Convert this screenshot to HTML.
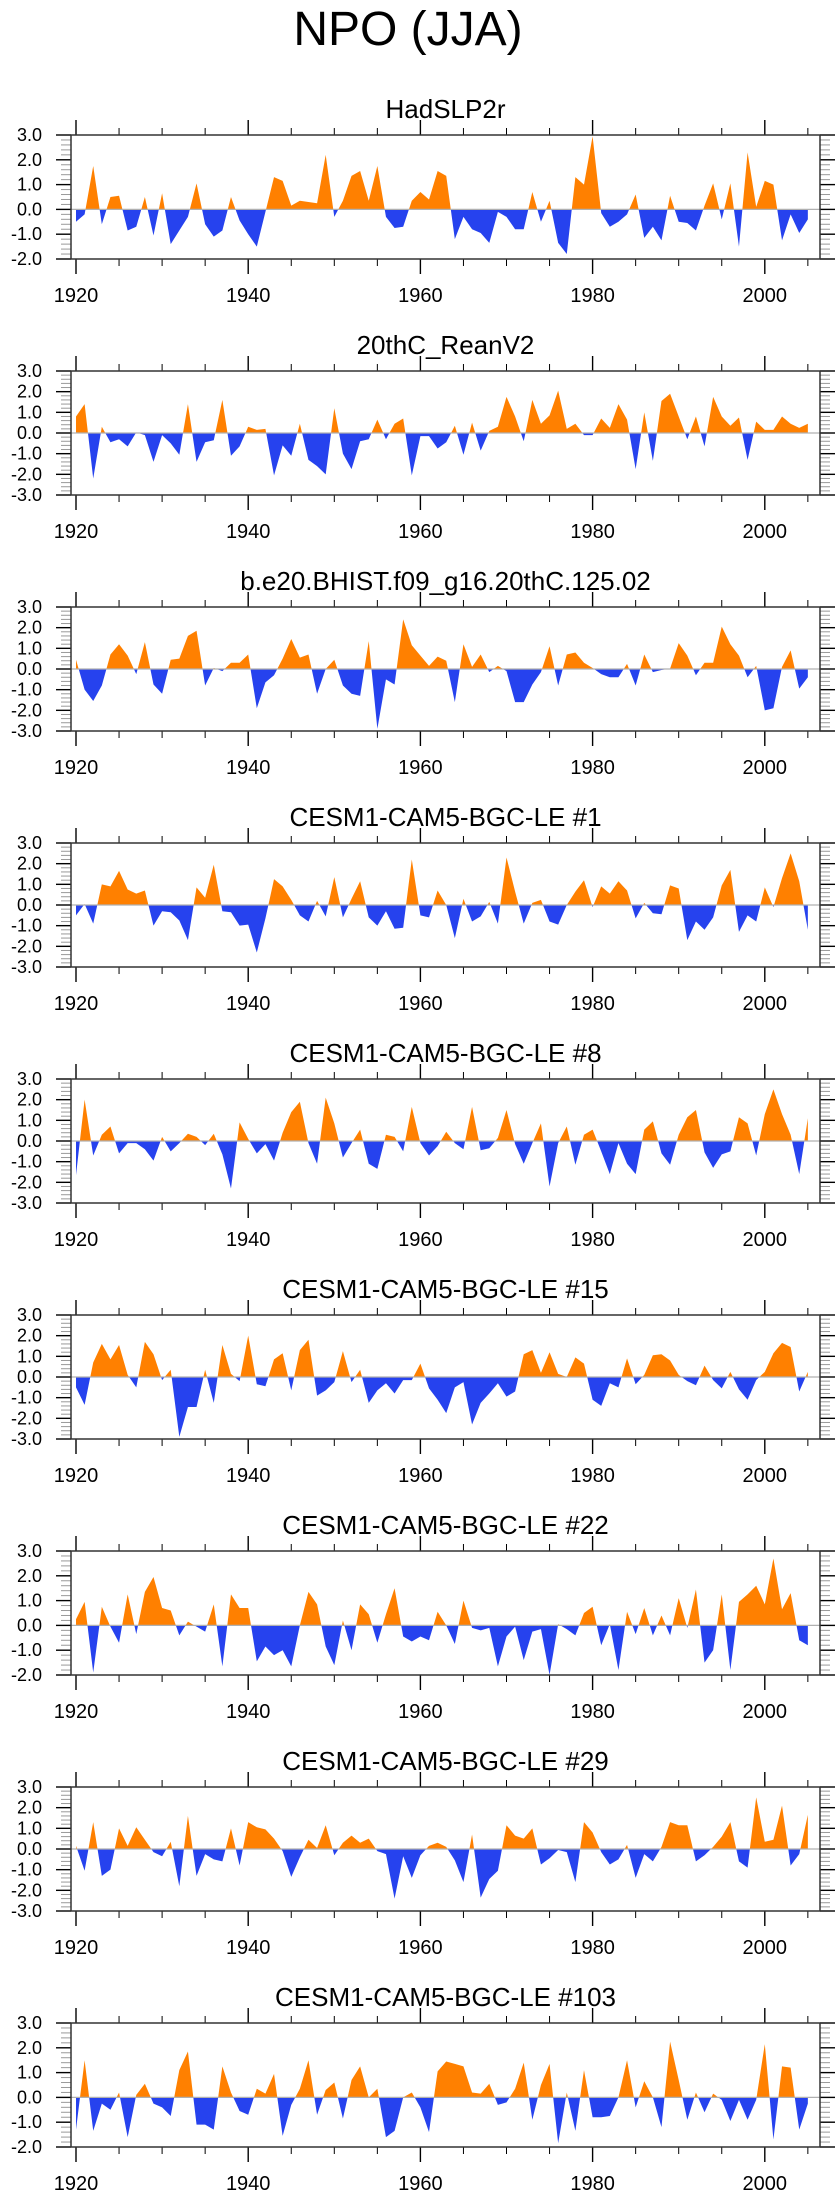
<!DOCTYPE html>
<html><head><meta charset="utf-8"><style>
html,body{margin:0;padding:0;background:#fff;}
svg{display:block;font-family:"Liberation Sans",Arial,sans-serif;}
</style></head>
<body>
<svg id="chart" width="840" height="2200" viewBox="0 0 840 2200" xmlns="http://www.w3.org/2000/svg">
<rect width="840" height="2200" fill="#fff"/>
<text x="408" y="45" font-size="48" text-anchor="middle" fill="#000">NPO (JJA)</text>
</svg>
<script>
const startYear = 1920;
const panelTitles = ["HadSLP2r","20thC_ReanV2","b.e20.BHIST.f09_g16.20thC.125.02","CESM1-CAM5-BGC-LE #1","CESM1-CAM5-BGC-LE #8","CESM1-CAM5-BGC-LE #15","CESM1-CAM5-BGC-LE #22","CESM1-CAM5-BGC-LE #29","CESM1-CAM5-BGC-LE #103"];
const yMins = [-2,-3,-3,-3,-3,-3,-2,-3,-2];
const yMax = 3;
const xTickLabels = [1920,1940,1960,1980,2000];
const s1 = [-0.5,-0.2,1.75,-0.6,0.5,0.55,-0.85,-0.7,0.5,-1.05,0.65,-1.4,-0.85,-0.3,1.05,-0.6,-1.1,-0.85,0.5,-0.45,-1.0,-1.5,-0.1,1.3,1.15,0.15,0.35,0.3,0.25,2.2,-0.3,0.35,1.35,1.55,0.35,1.75,-0.3,-0.75,-0.7,0.35,0.7,0.4,1.55,1.35,-1.2,-0.3,-0.8,-0.95,-1.35,-0.1,-0.3,-0.8,-0.8,0.7,-0.5,0.35,-1.35,-1.8,1.3,1.0,2.95,-0.15,-0.7,-0.5,-0.2,0.6,-1.15,-0.7,-1.25,0.55,-0.5,-0.55,-0.85,0.15,1.05,-0.4,1.05,-1.5,2.3,0.1,1.15,1.0,-1.25,-0.2,-0.95,-0.4];
const s2 = [0.8,1.4,-2.2,0.3,-0.45,-0.3,-0.65,0.03,-0.1,-1.4,-0.1,-0.5,-1.05,1.4,-1.4,-0.45,-0.35,1.6,-1.1,-0.65,0.3,0.15,0.2,-2.05,-0.6,-1.1,0.45,-1.3,-1.6,-2.0,1.2,-1.0,-1.75,-0.4,-0.3,0.65,-0.3,0.45,0.7,-2.05,-0.15,-0.15,-0.75,-0.45,0.35,-1.05,0.5,-0.85,0.1,0.3,1.75,0.8,-0.4,1.6,0.45,0.85,2.05,0.2,0.45,-0.1,-0.1,0.7,0.25,1.4,0.65,-1.75,1.0,-1.35,1.55,1.9,0.8,-0.3,0.8,-0.65,1.75,0.8,0.35,0.75,-1.3,0.55,0.15,0.15,0.8,0.45,0.25,0.45];
const s3 = [0.45,-1.0,-1.55,-0.8,0.7,1.2,0.65,-0.25,1.3,-0.75,-1.2,0.45,0.5,1.6,1.85,-0.8,0.05,-0.1,0.3,0.3,0.7,-1.9,-0.65,-0.3,0.5,1.45,0.55,0.7,-1.2,0.0,0.45,-0.8,-1.2,-1.3,1.35,-2.9,-0.5,-0.75,2.4,1.15,0.65,0.15,0.6,0.4,-1.6,1.2,0.1,0.7,-0.15,0.15,-0.1,-1.6,-1.6,-0.75,-0.15,1.1,-0.8,0.7,0.8,0.3,0.05,-0.25,-0.4,-0.4,0.25,-0.8,0.7,-0.15,-0.05,0.02,1.25,0.65,-0.3,0.3,0.3,2.05,1.2,0.65,-0.4,0.15,-2.0,-1.9,0.1,0.9,-0.95,-0.4];
const s4 = [-0.5,0.05,-0.9,1.0,0.9,1.65,0.75,0.55,0.7,-1.0,-0.3,-0.35,-0.75,-1.7,0.85,0.35,1.95,-0.3,-0.35,-1.0,-0.95,-2.3,-0.65,1.25,0.9,0.25,-0.5,-0.8,0.2,-0.55,1.35,-0.6,0.3,1.15,-0.6,-1.0,-0.3,-1.15,-1.1,2.2,-0.5,-0.6,0.7,0.0,-1.6,0.3,-0.8,-0.55,0.15,-0.9,2.3,0.65,-0.9,0.1,0.25,-0.8,-0.95,0.0,0.65,1.2,-0.1,0.9,0.55,1.15,0.7,-0.65,0.1,-0.4,-0.45,0.95,0.8,-1.7,-0.8,-1.2,-0.6,0.95,1.7,-1.3,-0.5,-0.8,0.85,-0.1,1.3,2.5,1.15,-1.2];
const s5 = [-1.65,2.0,-0.7,0.3,0.7,-0.6,-0.1,-0.1,-0.4,-0.95,0.2,-0.5,-0.1,0.35,0.2,-0.2,0.35,-0.65,-2.3,0.9,0.1,-0.6,-0.15,-0.95,0.4,1.4,1.9,-0.1,-1.1,2.1,0.85,-0.8,-0.1,0.55,-1.1,-1.35,0.3,0.2,-0.5,1.65,-0.1,-0.7,-0.25,0.45,-0.1,-0.4,1.65,-0.45,-0.35,0.15,1.5,-0.15,-1.1,-0.1,0.85,-2.2,-0.1,0.7,-1.15,0.3,0.55,-0.5,-1.6,-0.1,-1.1,-1.6,0.55,0.95,-0.6,-1.15,0.3,1.15,1.5,-0.55,-1.3,-0.65,-0.5,1.15,0.85,-0.7,1.3,2.5,1.3,0.3,-1.6,1.1];
const s6 = [-0.5,-1.35,0.7,1.6,0.85,1.55,0.1,-0.5,1.7,1.1,-0.15,0.35,-2.9,-1.45,-1.45,0.35,-1.25,1.55,0.15,-0.2,2.0,-0.35,-0.45,0.85,1.15,-0.65,1.3,1.8,-0.9,-0.65,-0.25,1.25,-0.25,0.35,-1.25,-0.65,-0.3,-0.8,-0.15,-0.15,0.65,-0.55,-1.1,-1.75,-0.5,-0.25,-2.3,-1.25,-0.8,-0.3,-0.95,-0.7,1.1,1.3,0.2,1.2,0.15,0.0,0.95,0.65,-1.1,-1.4,-0.3,-0.5,0.9,-0.35,0.1,1.05,1.1,0.8,0.1,-0.2,-0.4,0.55,-0.15,-0.55,0.25,-0.6,-1.1,-0.15,0.25,1.15,1.65,1.45,-0.7,0.25];
const s7 = [0.25,0.95,-1.9,0.75,-0.05,-0.7,1.25,-0.35,1.35,1.95,0.7,0.6,-0.4,0.15,-0.05,-0.25,0.85,-1.65,1.25,0.7,0.7,-1.45,-0.85,-1.2,-1.0,-1.65,0.0,1.35,0.85,-0.85,-1.6,0.2,-1.0,0.85,0.45,-0.7,0.45,1.5,-0.45,-0.65,-0.45,-0.6,0.55,0.0,-0.75,1.0,-0.1,-0.2,-0.1,-1.65,-0.45,-0.05,-1.4,-0.25,-0.15,-2.0,0.05,-0.15,-0.4,0.5,0.75,-0.8,0.05,-1.8,0.55,-0.35,0.7,-0.4,0.4,-0.4,1.1,-0.1,1.45,-1.5,-1.0,1.25,-1.8,0.95,1.25,1.6,0.85,2.7,0.65,1.3,-0.6,-0.8];
const s8 = [0.15,-1.05,1.3,-1.3,-1.0,1.0,0.15,1.05,0.45,-0.15,-0.35,0.35,-1.8,1.6,-1.3,-0.25,-0.5,-0.6,1.0,-0.8,1.3,1.05,0.95,0.5,-0.1,-1.35,-0.4,0.45,0.05,1.15,-0.3,0.3,0.65,0.3,0.5,-0.1,-0.25,-2.4,-0.35,-1.4,-0.3,0.15,0.3,0.1,-0.55,-1.6,0.7,-2.35,-1.45,-1.05,1.15,0.65,0.5,1.0,-0.75,-0.45,-0.05,-0.15,-1.6,1.3,0.8,-0.15,-0.75,-0.5,0.2,-1.4,-0.25,-0.6,0.1,1.3,1.15,1.15,-0.6,-0.3,0.1,0.6,1.3,-0.6,-0.9,2.5,0.35,0.45,2.1,-0.8,-0.25,1.65];
const s9 = [-1.3,1.5,-1.35,-0.25,-0.5,0.2,-1.6,0.1,0.55,-0.25,-0.4,-0.75,1.1,1.85,-1.1,-1.1,-1.3,1.25,0.2,-0.55,-0.7,0.35,0.15,0.95,-1.55,-0.3,0.35,1.5,-0.7,0.3,0.6,-0.85,0.7,1.25,0.0,0.35,-1.6,-1.35,0.0,0.2,-0.4,-1.4,1.05,1.45,1.35,1.25,0.2,0.15,0.55,-0.3,-0.2,0.35,1.4,-0.9,0.5,1.35,-1.85,0.2,-1.35,1.1,-0.8,-0.8,-0.75,0.0,1.5,-0.4,0.65,0.0,-1.2,2.25,0.7,-0.9,0.2,-0.6,0.15,-0.1,-0.95,-0.1,-0.9,-0.1,2.15,-1.7,1.25,1.2,-1.3,-0.25];
const seriesList = [s1,s2,s3,s4,s5,s6,s7,s8,s9];

const NS = "http://www.w3.org/2000/svg";
const svg = document.getElementById('chart');
const L = 71, R = 820, H = 124, PX0 = 76, PXY = 8.61;
function mk(tag, attrs, parent){ const e=document.createElementNS(NS,tag); for(const k in attrs) e.setAttribute(k,attrs[k]); parent.appendChild(e); return e; }
function xScale(year){ return PX0 + (year - startYear) * PXY; }

seriesList.forEach((data, p) => {
  const top = 135 + 236 * p;
  const ymin = yMins[p];
  const yScale = v => top + (yMax - v) / (yMax - ymin) * H;
  const g = mk('g', {}, svg);
  
  
  const t = mk('text', {x:(L+R)/2, y: top-17, 'font-size':26, 'text-anchor':'middle', fill:'#000'}, g);
  t.textContent = panelTitles[p];
  
  
  const y0 = yScale(0);
  const cu = 'cu'+p, cd = 'cd'+p;
  const defs = mk('defs', {}, g);
  const c1 = mk('clipPath', {id:cu}, defs); mk('rect', {x:L, y:top, width:R-L, height:y0-top}, c1);
  const c2 = mk('clipPath', {id:cd}, defs); mk('rect', {x:L, y:y0, width:R-L, height:top+H-y0}, c2);
  let d = 'M' + xScale(startYear).toFixed(2) + ' ' + y0.toFixed(2);
  data.forEach((v,i) => { d += ' L' + xScale(startYear+i).toFixed(2) + ' ' + yScale(v).toFixed(2); });
  d += ' L' + xScale(startYear+data.length-1).toFixed(2) + ' ' + y0.toFixed(2) + ' Z';
  const pos = mk('path', {d:d, fill:'#ff8000', 'clip-path':'url(#'+cu+')'}, g);
  
  
  const neg = mk('path', {d:d, fill:'#2642ee', 'clip-path':'url(#'+cd+')'}, g);
  
  
  const zl = mk('line', {x1:L, x2:R, y1:y0, y2:y0, stroke:'#b0b0b0', 'stroke-width':1.2}, g);
  
  
  // x ticks
  for (let yr = 1920; yr <= 2005; yr += 5) {
    const x = xScale(yr), major = (yr % 20 === 0), len = major ? 15 : 7;
    mk('line', {x1:x, x2:x, y1:top, y2:top-len, stroke:'#000', 'stroke-width':major?1.4:1}, g);
    mk('line', {x1:x, x2:x, y1:top+H, y2:top+H+len, stroke:'#000', 'stroke-width':major?1.4:1}, g);
  }
  xTickLabels.forEach(yr => {
    const lt = mk('text', {x:xScale(yr), y: top+H+43, 'font-size':20, 'text-anchor':'middle', fill:'#000'}, g);
    lt.textContent = yr;
    
    
  });
  // y ticks
  for (let k = Math.round(ymin*5); k <= yMax*5; k++) {
    const v = k/5, y = yScale(v), major = (k % 5 === 0), len = major ? 15 : 10;
    const col = major ? '#000' : '#999';
    mk('line', {x1:L, x2:L-len, y1:y, y2:y, stroke:col, 'stroke-width':major?1.4:1}, g);
    mk('line', {x1:R, x2:R+len, y1:y, y2:y, stroke:col, 'stroke-width':major?1.4:1}, g);
    if (major) {
      const yl = mk('text', {x:42, y:y+6, 'font-size':18, 'text-anchor':'end', fill:'#000'}, g);
      yl.textContent = v.toFixed(1);
      
      
    }
  }
  const fr = mk('rect', {x:L, y:top, width:R-L, height:H, fill:'none', stroke:'#333', 'stroke-width':1.5}, g);
  
  
});
</script>
</body></html>
